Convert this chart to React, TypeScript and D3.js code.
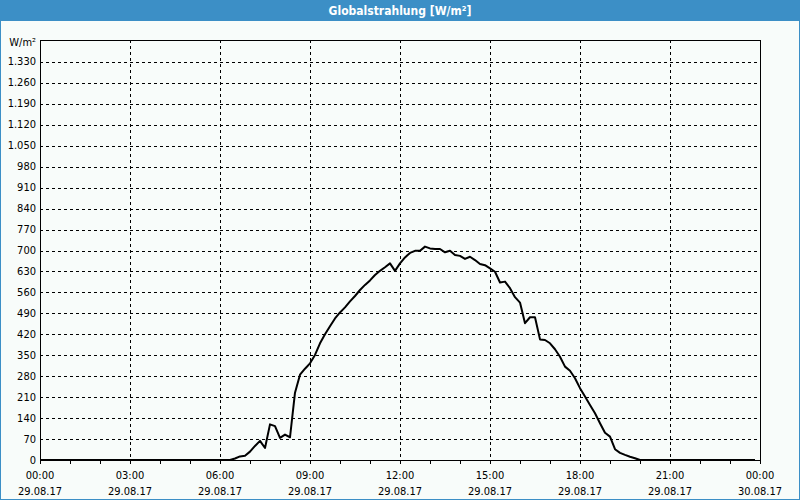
import { useEffect, useRef } from "react";
import * as d3 from "d3";

// 10-minute readings, 29.08.17
const times: string[] = [
	"00:00", "06:20", "06:30", "06:40", "06:50", "07:00", "07:10", "07:20", "07:30", "07:40",
	"07:50", "08:00", "08:10", "08:20", "08:30", "08:40", "08:50", "09:00", "09:10", "09:20",
	"09:30", "09:40", "09:50", "10:00", "10:10", "10:20", "10:30", "10:40", "10:50", "11:00",
	"11:10", "11:20", "11:30", "11:40", "11:50", "12:00", "12:10", "12:20", "12:30", "12:40",
	"12:50", "13:00", "13:10", "13:20", "13:30", "13:40", "13:50", "14:00", "14:10", "14:20",
	"14:30", "14:40", "14:50", "15:00", "15:10", "15:20", "15:30", "15:40", "15:50", "16:00",
	"16:10", "16:20", "16:30", "16:40", "16:50", "17:00", "17:10", "17:20", "17:30", "17:40",
	"17:50", "18:00", "18:10", "18:20", "18:30", "18:40", "18:50", "19:00", "19:10", "19:20",
	"19:30", "19:40", "19:50", "20:00", "23:50"
];
const radiation: number[] = [
	0, 0, 5, 12, 14, 28, 47, 64, 40, 119,
	113, 74, 85, 76, 225, 285, 305, 323, 351, 390,
	420, 447, 473, 493, 510, 530, 548, 568, 585, 600,
	618, 632, 644, 657, 632, 657, 677, 692, 699, 699,
	713, 707, 705, 705, 694, 699, 685, 682, 672, 679,
	668, 655, 651, 640, 629, 593, 596, 574, 544, 526,
	457, 477, 477, 403, 401, 390, 370, 345, 312, 298,
	273, 240, 212, 184, 156, 123, 91, 78, 36, 24,
	17, 11, 6, 0, 0
];
const yTicks: number[] = [0, 70, 140, 210, 280, 350, 420, 490, 560, 630, 700, 770, 840, 910, 980, 1050, 1120, 1190, 1260, 1330];
const yMax = 1400;
const dayStart = new Date(2017, 7, 29, 0, 0);
const dayEnd = new Date(2017, 7, 30, 0, 0);

const font = "'DejaVu Sans Condensed', 'Liberation Sans', sans-serif";
const blue = "#3c8fc6";

export default function App() {
	const ref = useRef<SVGSVGElement>(null);

	useEffect(() => {
		if (!ref.current) return;
		const width = 800;
		const height = 500;
		const margin = { top: 40, right: 40, bottom: 40, left: 40 };
		const svg = d3.select(ref.current);
		svg.selectAll("*").remove();

		svg.append("rect").attr("width", width).attr("height", height).attr("fill", "#f8fcfa");
		svg.append("rect")
			.attr("x", 0.5).attr("y", 0.5)
			.attr("width", width - 1).attr("height", height - 1)
			.attr("fill", "none").attr("stroke", blue);
		svg.append("rect").attr("width", width).attr("height", 21).attr("fill", blue);
		svg.append("text")
			.attr("x", width / 2).attr("y", 11)
			.attr("text-anchor", "middle").attr("dominant-baseline", "central")
			.attr("fill", "#ffffff").attr("font-family", font).attr("font-weight", "bold")
			.attr("font-size", 12)
			.text("Globalstrahlung [W/m²]");

		const parse = d3.timeParse("%d.%m.%Y %H:%M");
		const data = times.map((t, i) => ({ date: parse(`29.08.2017 ${t}`) as Date, value: radiation[i] }));

		const x = d3.scaleTime().domain([dayStart, dayEnd]).range([margin.left, width - margin.right]);
		const y = d3.scaleLinear().domain([0, yMax]).range([height - margin.bottom, margin.top + 1]);

		const grid = svg.append("g").attr("stroke", "#000").attr("stroke-width", 1).attr("stroke-dasharray", "3,3");
		grid.selectAll("line.h")
			.data(yTicks.filter((d) => d > 0))
			.join("line")
			.attr("class", "h")
			.attr("x1", margin.left).attr("x2", width - margin.right)
			.attr("y1", (d) => Math.round(y(d)) + 0.5).attr("y2", (d) => Math.round(y(d)) + 0.5);
		const majorTimes = d3.timeHour.every(3)!.range(dayStart, dayEnd).slice(1);
		grid.selectAll("line.v")
			.data(majorTimes)
			.join("line")
			.attr("class", "v")
			.attr("x1", (d) => Math.round(x(d)) + 0.5).attr("x2", (d) => Math.round(x(d)) + 0.5)
			.attr("y1", margin.top).attr("y2", height - margin.bottom);

		// minor hourly ticks below axis
		svg.append("g")
			.selectAll("line")
			.data(d3.timeHour.range(dayStart, d3.timeHour.offset(dayEnd, 1)))
			.join("line")
			.attr("x1", (d) => Math.round(x(d)) + 0.5).attr("x2", (d) => Math.round(x(d)) + 0.5)
			.attr("y1", height - margin.bottom).attr("y2", height - margin.bottom + 4)
			.attr("stroke", "#000");

		svg.append("rect")
			.attr("x", margin.left + 0.5).attr("y", margin.top + 0.5)
			.attr("width", width - margin.left - margin.right)
			.attr("height", height - margin.top - margin.bottom)
			.attr("fill", "none").attr("stroke", "#000");

		svg.append("g")
			.attr("font-family", font).attr("font-size", 11).attr("fill", "#000")
			.selectAll("text")
			.data(yTicks)
			.join("text")
			.attr("x", margin.left - 4)
			.attr("y", (d) => y(d))
			.attr("text-anchor", "end").attr("dominant-baseline", "central")
			.text((d) => d3.format(",")(d).replace(/,/g, "."));
		svg.append("text")
			.attr("x", margin.left - 4).attr("y", 46)
			.attr("text-anchor", "end")
			.attr("font-family", font).attr("font-size", 11)
			.text("W/m²");

		const xLabels = svg.append("g").attr("font-family", font).attr("font-size", 11).attr("fill", "#000");
		const fmtTime = d3.timeFormat("%H:%M");
		const fmtDate = d3.timeFormat("%d.%m.%y");
		const labelTimes = d3.timeHour.every(3)!.range(dayStart, d3.timeHour.offset(dayEnd, 1));
		xLabels.selectAll("text.t")
			.data(labelTimes)
			.join("text")
			.attr("class", "t")
			.attr("x", (d) => x(d)).attr("y", 479)
			.attr("text-anchor", "middle")
			.text((d) => fmtTime(d));
		xLabels.selectAll("text.d")
			.data(labelTimes)
			.join("text")
			.attr("class", "d")
			.attr("x", (d) => x(d)).attr("y", 495)
			.attr("text-anchor", "middle")
			.text((d) => fmtDate(d));

		const line = d3.line<{ date: Date; value: number }>()
			.x((d) => x(d.date))
			.y((d) => y(d.value));
		svg.append("path")
			.datum(data)
			.attr("d", line)
			.attr("fill", "none")
			.attr("stroke", "#000")
			.attr("stroke-width", 2)
			.attr("stroke-linejoin", "round");
	}, []);

	return (
		<svg ref={ref} width={800} height={500} style={{ display: "block", position: "absolute", left: 0, top: 0 }} />
	);
}
